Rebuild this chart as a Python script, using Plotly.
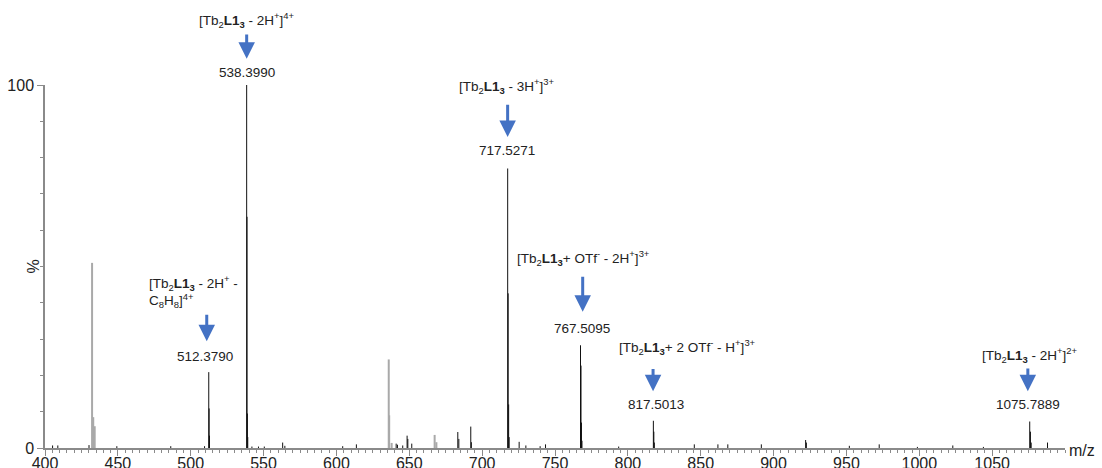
import plotly.graph_objects as go

# ---- data (m/z, relative intensity %) ----
black_mz = [405.2, 408.8, 430.2, 449.3, 486.3, 509.5,
            512.379, 512.63, 512.88,
            538.399, 538.649, 538.899, 539.149,
            542.0, 546.5, 550.5, 563.1, 564.6, 604.3, 613.7,
            641.0, 641.9, 645.5, 648.5, 649.0, 651.7,
            683.3, 684.0, 692.2, 692.6,
            717.527, 717.86, 718.19, 718.53,
            725.4, 730.0, 739.8, 743.5,
            767.5095, 767.84, 768.17, 768.51,
            793.7, 817.5013, 817.83, 818.17,
            845.6, 861.8, 868.6, 891.6, 922.0, 922.5, 952.0, 972.5,
            998.7, 1023.0, 1044.0,
            1075.7889, 1076.29, 1076.79, 1088.0]
black_int = [0.7, 0.7, 0.8, 0.5, 0.5, 0.5,
             20.9, 10.9, 3.4,
             100.0, 63.7, 9.5, 3.0,
             0.4, 0.4, 0.4, 1.5, 0.6, 0.5, 1.0,
             1.2, 0.9, 0.7, 3.4, 2.5, 1.2,
             4.4, 2.5, 5.9, 1.6,
             77.0, 42.6, 12.0, 3.0,
             1.7, 0.7, 0.5, 1.0,
             28.3, 22.7, 7.0, 2.0,
             0.4, 7.5, 4.5, 1.5,
             1.0, 1.0, 1.0, 1.0, 2.2, 1.5, 0.6, 1.0,
             0.3, 0.7, 0.3,
             7.3, 4.5, 1.5, 1.5]

gray_mz = [432.3, 433.1, 434.1, 635.9, 636.2, 637.9, 667.4, 668.6]
gray_int = [51.0, 8.5, 6.0, 24.4, 9.0, 1.4, 3.6, 1.6]

# label layout: text position (m/z, % of full scale), arrow tail/tip (%), value label position
labels = [
    dict(text="[Tb<sub>2</sub><b>L1<sub>3</sub></b> - 2H<sup>+</sup>]<sup>4+</sup>",
         tx=538.4, ty=117.9, anchor="center", a0=114.3, a1=107.2, ax=538.4, val="538.3990", vx=538.4, vy=103.4),
    dict(text="[Tb<sub>2</sub><b>L1<sub>3</sub></b> - 3H<sup>+</sup>]<sup>3+</sup>",
         tx=717.1, ty=99.7, anchor="center", a0=95.0, a1=85.7, ax=717.5, val="717.5271", vx=717.3, vy=81.9),
    dict(text="[Tb<sub>2</sub><b>L1<sub>3</sub></b> - 2H<sup>+</sup> -<br>C<sub>8</sub>H<sub>8</sub>]<sup>4+</sup>",
         tx=469.8, ty=43.0, anchor="left", a0=37.1, a1=29.4, ax=511.0, val="512.3790", vx=509.8, vy=25.2),
    dict(text="[Tb<sub>2</sub><b>L1<sub>3</sub></b>+ OTf<sup>-</sup> - 2H<sup>+</sup>]<sup>3+</sup>",
         tx=722.6, ty=52.3, anchor="left", a0=47.6, a1=37.5, ax=769.0, val="767.5095", vx=768.5, vy=33.0),
    dict(text="[Tb<sub>2</sub><b>L1<sub>3</sub></b>+ 2 OTf<sup>-</sup> - H<sup>+</sup>]<sup>3+</sup>",
         tx=792.6, ty=27.7, anchor="left", a0=22.2, a1=15.6, ax=817.3, val="817.5013", vx=819.4, vy=12.0),
    dict(text="[Tb<sub>2</sub><b>L1<sub>3</sub></b> - 2H<sup>+</sup>]<sup>2+</sup>",
         tx=1076.0, ty=25.5, anchor="center", a0=22.3, a1=15.6, ax=1074.5, val="1075.7889", vx=1074.8, vy=12.0),
]

PLOT_H = 363  # px height of the plotting area (for arrow pixel offsets)


def sticks(mz, inten):
    xs, ys = [], []
    for m, h in zip(mz, inten):
        xs += [m, m, None]
        ys += [0, h, None]
    return xs, ys


FONT = "Liberation Sans, Arial, sans-serif"
BLUE = "#4472C4"

fig = go.Figure()
gx, gy = sticks(gray_mz, gray_int)
fig.add_trace(go.Scatter(x=gx, y=gy, mode="lines", line=dict(color="#a9a9a9", width=2),
                         hoverinfo="skip", showlegend=False))
bx, by = sticks(black_mz, black_int)
fig.add_trace(go.Scatter(x=bx, y=by, mode="lines", line=dict(color="#111111", width=1),
                         hoverinfo="skip", showlegend=False))

ann = []
for L in labels:
    ann.append(dict(x=L["tx"], y=L["ty"] / 100, xref="x", yref="paper", text=L["text"], showarrow=False,
                    xanchor=L["anchor"], yanchor="middle", align="left",
                    font=dict(family=FONT, size=13.5, color="#222")))
    ann.append(dict(x=L["ax"], y=L["a1"] / 100, xref="x", yref="paper",
                    axref="pixel", ayref="pixel", ax=0, ay=-(L["a0"] - L["a1"]) / 100 * PLOT_H,
                    text="", showarrow=True, arrowhead=2,
                    arrowsize=1.1, arrowwidth=3, arrowcolor=BLUE, standoff=0, startstandoff=0))
    ann.append(dict(x=L["vx"], y=L["vy"] / 100, xref="x", yref="paper", text=L["val"], showarrow=False,
                    xanchor="center", yanchor="middle",
                    font=dict(family=FONT, size=13.5, color="#222")))

ann.append(dict(x=1.0, y=0, xref="paper", yref="paper", text="m/z", showarrow=False,
                xanchor="left", yanchor="middle", xshift=2, yshift=-2,
                font=dict(family=FONT, size=16, color="#222")))
ann.append(dict(x=0, y=0.5, xref="paper", yref="paper", text="%", showarrow=False, textangle=-90,
                xanchor="center", yanchor="middle", xshift=-12,
                font=dict(family=FONT, size=16, color="#222")))
fig.update_layout(annotations=ann)

fig.update_layout(
    width=1102, height=468,
    margin=dict(l=45, r=37, t=85, b=20, autoexpand=False),
    paper_bgcolor="white", plot_bgcolor="white",
    font=dict(family=FONT, size=16, color="#222"),
    xaxis=dict(range=[400, 1100], tickvals=list(range(400, 1051, 50)),
               showgrid=False, zeroline=False, showline=True, linecolor="#8a8a8a", linewidth=1.5,
               ticks="outside", ticklen=6, tickcolor="#8a8a8a", tickwidth=1.2,
               ticklabelstandoff=-6,
               minor=dict(dtick=5, ticks="outside", ticklen=3, tickcolor="#8a8a8a", tickwidth=1, showgrid=False),
               automargin=False, tickfont=dict(family=FONT, size=16, color="#222")),
    yaxis=dict(range=[0, 100], tickvals=[0, 100],
               showgrid=False, zeroline=False, showline=True, linecolor="#8a8a8a", linewidth=1.5,
               ticks="outside", ticklen=6, tickcolor="#8a8a8a", tickwidth=1.2,
               minor=dict(dtick=10, ticks="outside", ticklen=3, tickcolor="#8a8a8a", tickwidth=1, showgrid=False),
               automargin=False, tickfont=dict(family=FONT, size=16, color="#222")),
)

fig.write_html("out.html")
